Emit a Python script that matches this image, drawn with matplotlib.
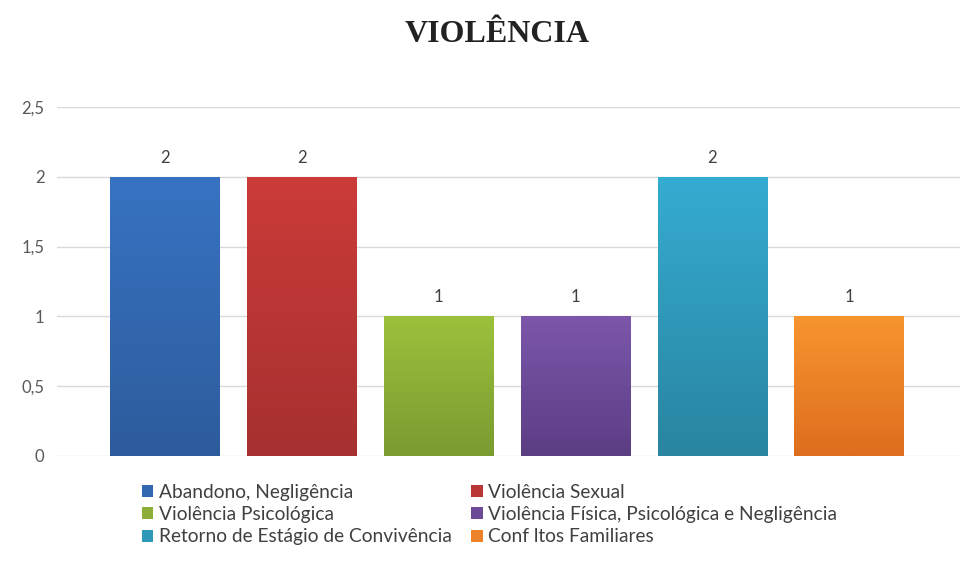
import matplotlib
matplotlib.use("Agg")
import matplotlib.pyplot as plt
import numpy as np
from matplotlib.patches import Patch

categories = ["Abandono, Negligência", "Violência Sexual", "Violência Psicológica",
              "Violência Física, Psicológica e Negligência",
              "Retorno de Estágio de Convivência", "Conflitos Familiares"]
legend_labels = ["Abandono, Negligência", "Violência Sexual", "Violência Psicológica",
                 "Violência Física, Psicológica e Negligência",
                 "Retorno de Estágio de Convivência", "Conf ltos Familiares"]
values = [2, 2, 1, 1, 2, 1]
top_colors = ["#3773C2", "#CB3B38", "#9CC13C", "#7C56AA", "#35ACD2", "#F7952F"]
bottom_colors = ["#2D5C9C", "#A63130", "#7B9A31", "#5C3E84", "#2985A0", "#DE6E1E"]
mid_colors = ["#3268AF", "#B93634", "#8DAE37", "#6C4A97", "#2F99B9", "#EB8227"]
yticks = [0, 0.5, 1, 1.5, 2, 2.5]
yticklabels = ["0", "0,5", "1", "1,5", "2", "2,5"]

plt.rcParams['font.family'] = ['Lato', 'DejaVu Sans']

fig = plt.figure(figsize=(9.68, 5.75), dpi=100)
ax = fig.add_axes([57/968, 1-456/575, 903/968, 349/575])

x = np.arange(len(values))
bars = ax.bar(x, values, width=0.8, color=mid_colors, zorder=2)

# vertical gradient fill
for b, ct, cb in zip(bars, top_colors, bottom_colors):
    c1 = np.array(matplotlib.colors.to_rgb(ct))
    c2 = np.array(matplotlib.colors.to_rgb(cb))
    t = np.linspace(0, 1, 100)[:, None]
    grad = (c1 * (1 - t) + c2 * t)[:, None, :]
    x0, y0 = b.get_x(), b.get_y()
    w, h = b.get_width(), b.get_height()
    im = ax.imshow(grad, extent=[x0, x0 + w, y0, y0 + h], aspect='auto',
                   origin='upper', zorder=3)
    im.set_clip_path(b)

for xi, v in zip(x, values):
    ax.text(xi, v + 0.08, str(v), ha='center', va='bottom', fontsize=12,
            color='#404040', zorder=4)

ax.set_xlim(-0.79, 5.81)
ax.set_ylim(0, 2.5)
ax.set_yticks(yticks)
ax.set_yticklabels(yticklabels, fontsize=12, color='#595959')
ax.set_xticks([])
ax.tick_params(axis='y', length=0, pad=9)
for s in ax.spines.values():
    s.set_visible(False)
ax.grid(axis='y', color='#D9D9D9', linewidth=1, zorder=0)
ax.set_axisbelow(True)

fig.text(497/968, 1-34/575, "VIOLÊNCIA", ha='center', va='center',
         fontsize=23, fontweight='bold', family='Liberation Serif', color='#222222')

handles = [Patch(facecolor=c, edgecolor='none') for c in mid_colors]
order = [0, 2, 4, 1, 3, 5]
leg = fig.legend([handles[i] for i in order], [legend_labels[i] for i in order],
                 ncol=2, loc='upper left', bbox_to_anchor=(142/968, 1-484/575),
                 frameon=False, fontsize=13.75, handlelength=0.6, handleheight=0.6,
                 handletextpad=0.3, columnspacing=1.0, labelspacing=0.27,
                 borderpad=0, borderaxespad=0)
for t in leg.get_texts():
    t.set_color('#404040')

fig.savefig("out.png", dpi=100, facecolor='white')
